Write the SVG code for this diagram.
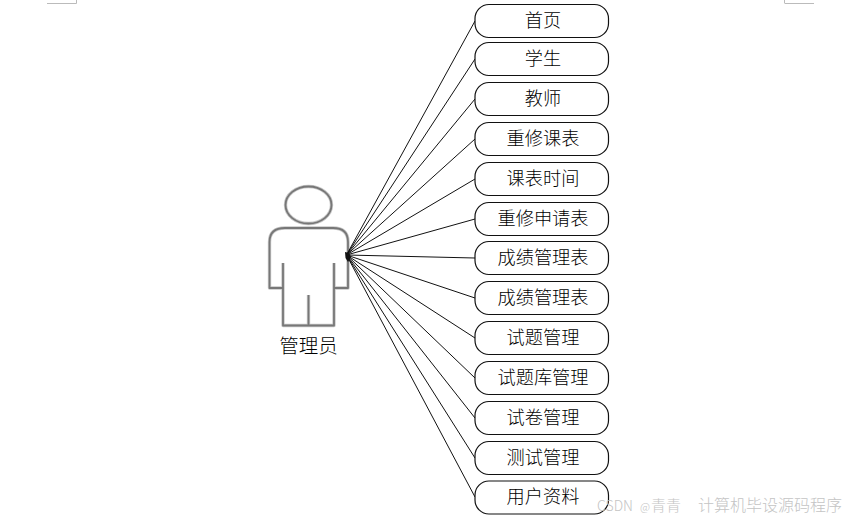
<svg xmlns="http://www.w3.org/2000/svg" width="847" height="521" viewBox="0 0 847 521">
<style>
.n{fill:#fff;stroke:#111;stroke-width:1.2}
.t{font-family:"Noto Sans CJK SC","Liberation Serif",sans-serif;font-size:18.2px;font-weight:300;fill:#000;text-anchor:middle}
.c{stroke:#111;stroke-width:1;fill:none}
.h{stroke:#c8c8c8;stroke-width:3.4;fill:none;stroke-linejoin:round}
.a{stroke:#777;stroke-width:1.8;fill:none;stroke-linejoin:round}
.m{stroke:#bbb;stroke-width:1;fill:none}
.w{font-family:"Noto Sans CJK SC","Liberation Sans",sans-serif;font-weight:300;fill:#c4c4c4}
</style>
<rect width="847" height="521" fill="#fff"/>
<path class="m" d="M47 3.500H76.500V0M785 3.500H814M784.500 3.500V0"/>
<g id="actor">
<ellipse class="h" cx="308.500" cy="205" rx="23" ry="18.500"/>
<path class="h" d="M283 263V288H269.500V242Q269.500 228 285 228H333Q348 228 348 242V288H334V263M283 288V325.500H334V288M308.500 295V325.500"/>
<ellipse class="a" cx="308.500" cy="205" rx="23" ry="18.500"/>
<path class="a" d="M283 263V288H269.500V242Q269.500 228 285 228H333Q348 228 348 242V288H334V263M283 288V325.500H334V288M308.500 295V325.500"/>
<text class="t" x="308.500" y="353" style="font-size:19.500px">管理员</text>
</g>
<g id="connectors">
<path class="c" d="M346.500 255L475 21M346.500 255L475 59M346.500 255L475 99M346.500 255L475 139M346.500 255L475 179M346.500 255L475 219M346.500 255L475 258M346.500 255L475 298M346.500 255L475 338M346.500 255L475 378M346.500 255L475 418M346.500 255L475 458M346.500 255L475 497"/>
<path d="M345 252L349 253L351 257L348 262L345.500 258Z" fill="#111"/>
</g>
<g id="n1"><rect class="n" x="475" y="4.500" width="133.500" height="33" rx="14"/><text class="t" x="543" y="27">首页</text></g>
<g id="n2"><rect class="n" x="475" y="42.500" width="133.500" height="33" rx="14"/><text class="t" x="543" y="65">学生</text></g>
<g id="n3"><rect class="n" x="475" y="82.500" width="133.500" height="33" rx="14"/><text class="t" x="543" y="105">教师</text></g>
<g id="n4"><rect class="n" x="475" y="122.500" width="133.500" height="33" rx="14"/><text class="t" x="543" y="145">重修课表</text></g>
<g id="n5"><rect class="n" x="475" y="162.500" width="133.500" height="33" rx="14"/><text class="t" x="543" y="185">课表时间</text></g>
<g id="n6"><rect class="n" x="475" y="202.500" width="133.500" height="33" rx="14"/><text class="t" x="543" y="225">重修申请表</text></g>
<g id="n7"><rect class="n" x="475" y="241.500" width="133.500" height="33" rx="14"/><text class="t" x="543" y="264">成绩管理表</text></g>
<g id="n8"><rect class="n" x="475" y="281.500" width="133.500" height="33" rx="14"/><text class="t" x="543" y="304">成绩管理表</text></g>
<g id="n9"><rect class="n" x="475" y="321.500" width="133.500" height="33" rx="14"/><text class="t" x="543" y="344">试题管理</text></g>
<g id="n10"><rect class="n" x="475" y="361.500" width="133.500" height="33" rx="14"/><text class="t" x="543" y="384">试题库管理</text></g>
<g id="n11"><rect class="n" x="475" y="401.500" width="133.500" height="33" rx="14"/><text class="t" x="543" y="424">试卷管理</text></g>
<g id="n12"><rect class="n" x="475" y="441.500" width="133.500" height="33" rx="14"/><text class="t" x="543" y="464">测试管理</text></g>
<g id="n13"><rect class="n" x="475" y="481" width="133.500" height="33" rx="14"/><text class="t" x="543" y="503">用户资料</text></g>
<text class="w" x="597" y="511" font-size="14" textLength="36">CSDN</text>
<text class="w" x="640" y="511" font-size="11">@</text>
<text class="w" x="651" y="511" font-size="15">青青</text>
<text class="w" x="698" y="511" font-size="16">计算机毕设源码程序</text>
</svg>
